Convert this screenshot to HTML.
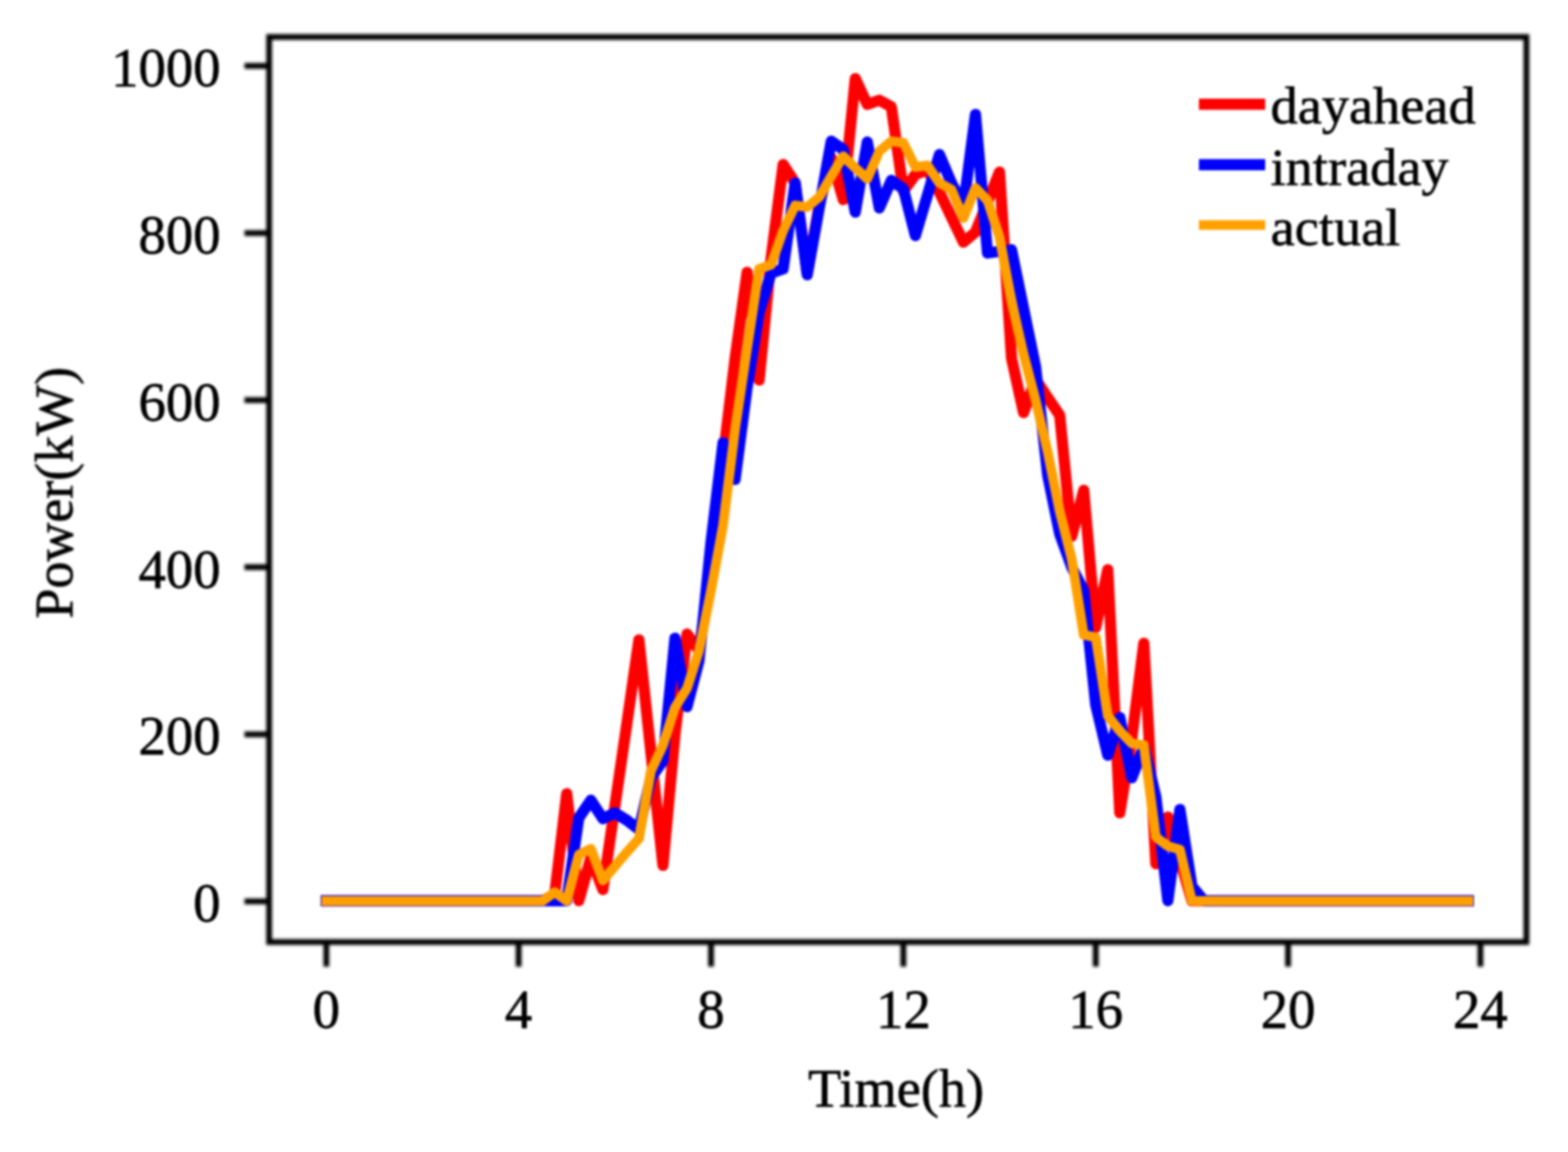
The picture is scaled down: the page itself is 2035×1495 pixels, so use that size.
<!DOCTYPE html>
<html><head><meta charset="utf-8"><title>Power vs Time</title>
<style>
html,body{margin:0;padding:0;background:#fff;width:2035px;height:1495px;overflow:hidden}
svg{display:block}
.blur{filter:blur(2px)}
.tblur{filter:blur(1.6px)}
.lblur{filter:blur(1.5px)}
</style></head><body>
<svg width="2035" height="1495" viewBox="0 0 2035 1495"><rect width="2035" height="1495" fill="#fff"/><g class="blur"><rect x="349.3" y="48.0" width="1631.7" height="1174.5" fill="none" stroke="#000" stroke-width="7.5"/><path d="M317.3,1169.7H349.3M317.3,952.9H349.3M317.3,736.1H349.3M317.3,519.2H349.3M317.3,302.4H349.3M317.3,85.6H349.3M423.5,1222.5V1254.5M673.1,1222.5V1254.5M922.8,1222.5V1254.5M1172.4,1222.5V1254.5M1422.1,1222.5V1254.5M1671.7,1222.5V1254.5M1921.3,1222.5V1254.5" stroke="#000" stroke-width="7.5" fill="none"/></g><g class="lblur" fill="none" stroke-width="14.5" stroke-linejoin="round"><polyline stroke="#ff0000" stroke-linecap="square" points="423.5,1168.9 704.3,1168.9 719.9,1161.0 735.5,1029.9 751.2,1168.9 766.8,1113.3 782.4,1154.5 798.0,1046.1 813.6,938.8 829.2,830.4 860.4,1123.1 876.0,952.9 891.6,822.8 907.2,844.5 922.8,736.1 938.4,595.1 954.0,465.0 969.6,353.4 985.2,493.2 1000.8,334.9 1016.4,213.5 1032.0,237.4 1047.6,354.5 1063.2,266.6 1078.8,204.9 1094.4,259.1 1110.0,101.9 1125.6,135.5 1141.2,130.0 1156.8,138.7 1172.4,248.2 1188.0,226.5 1203.6,220.0 1219.2,249.3 1250.4,314.3 1266.0,301.3 1297.2,223.3 1312.8,465.0 1328.4,535.5 1344.0,492.1 1359.7,516.0 1375.3,538.8 1390.9,695.9 1406.5,636.3 1422.1,814.1 1437.7,739.3 1453.3,1054.8 1468.9,958.3 1484.5,834.7 1500.1,1120.9 1515.7,1060.2 1531.3,1115.5 1546.9,1168.9 1905.7,1168.9"/><polyline stroke="#0000ff" stroke-linecap="square" points="423.5,1168.9 735.5,1168.9 751.2,1061.3 766.8,1038.5 782.4,1062.4 798.0,1054.8 813.6,1064.5 829.2,1076.5 844.8,1009.3 860.4,987.6 876.0,828.2 891.6,917.1 907.2,857.5 922.8,703.5 938.4,574.5 954.0,622.2 969.6,503.0 985.2,405.4 1000.8,354.5 1016.4,349.0 1032.0,237.4 1047.6,356.6 1078.8,183.2 1094.4,194.0 1110.0,275.3 1125.6,184.3 1141.2,269.9 1156.8,234.1 1172.4,245.0 1188.0,305.7 1203.6,253.6 1219.2,200.5 1234.8,237.4 1250.4,267.7 1266.0,148.5 1281.6,328.4 1312.8,324.1 1344.0,475.9 1359.7,616.8 1375.3,692.7 1390.9,736.1 1406.5,766.4 1422.1,914.9 1437.7,980.0 1453.3,931.2 1468.9,1009.3 1484.5,969.1 1500.1,1034.2 1515.7,1168.9 1531.3,1050.4 1546.9,1150.2 1562.5,1168.9 1905.7,1168.9"/><polyline stroke="#ffa000" stroke-width="12.5" stroke-linecap="square" points="423.5,1169.2 704.3,1169.2 719.9,1157.8 735.5,1169.2 751.2,1109.0 766.8,1101.4 782.4,1142.6 813.6,1105.7 829.2,1088.4 844.8,1000.6 860.4,967.0 876.0,918.2 891.6,893.3 907.2,844.5 922.8,766.4 938.4,681.9 954.0,557.2 969.6,452.0 985.2,349.0 1000.8,343.6 1016.4,299.2 1032.0,266.6 1047.6,268.8 1063.2,255.8 1078.8,228.7 1094.4,202.7 1110.0,217.9 1125.6,232.0 1141.2,196.2 1156.8,183.2 1172.4,185.3 1188.0,216.8 1203.6,214.6 1219.2,237.4 1234.8,246.0 1250.4,282.9 1266.0,243.9 1281.6,260.1 1297.2,307.8 1312.8,391.3 1328.4,459.6 1344.0,519.2 1359.7,586.5 1375.3,663.4 1390.9,725.2 1406.5,823.9 1422.1,827.1 1437.7,929.0 1453.3,948.5 1468.9,964.8 1484.5,967.0 1500.1,1086.2 1515.7,1098.1 1531.3,1102.5 1546.9,1169.2 1905.7,1169.2"/><line x1="1556" y1="135.3" x2="1642" y2="135.3" stroke="#ff0000" stroke-width="14.5"/><line x1="1556" y1="213.7" x2="1642" y2="213.7" stroke="#0000ff" stroke-width="14.5"/><line x1="1556" y1="292.0" x2="1642" y2="292.0" stroke="#ffa000" stroke-width="12.5"/></g><g class="tblur" font-family="'Liberation Serif','Times New Roman',serif" font-size="71" fill="#000" stroke="#000" stroke-width="0.8"><text x="286.3" y="1196.2" text-anchor="end">0</text><text x="286.3" y="979.4" text-anchor="end">200</text><text x="286.3" y="762.6" text-anchor="end">400</text><text x="286.3" y="545.7" text-anchor="end">600</text><text x="286.3" y="328.9" text-anchor="end">800</text><text x="286.3" y="112.1" text-anchor="end">1000</text><text x="423.5" y="1334" text-anchor="middle">0</text><text x="673.1" y="1334" text-anchor="middle">4</text><text x="922.8" y="1334" text-anchor="middle">8</text><text x="1172.4" y="1334" text-anchor="middle">12</text><text x="1422.1" y="1334" text-anchor="middle">16</text><text x="1671.7" y="1334" text-anchor="middle">20</text><text x="1921.3" y="1334" text-anchor="middle">24</text><text x="1163" y="1435.7" font-size="70.5" text-anchor="middle">Time(h)</text><text transform="translate(93.8,639.5) rotate(-90)" font-size="70" text-anchor="middle">Power(kW)</text><text transform="translate(1649,160.3) scale(1,0.96)" font-size="70.5">dayahead</text><text transform="translate(1649,239.9) scale(1,0.96)" font-size="70.5">intraday</text><text transform="translate(1649,317.5) scale(1,0.96)" font-size="70.5">actual</text></g></svg>
</body></html>
